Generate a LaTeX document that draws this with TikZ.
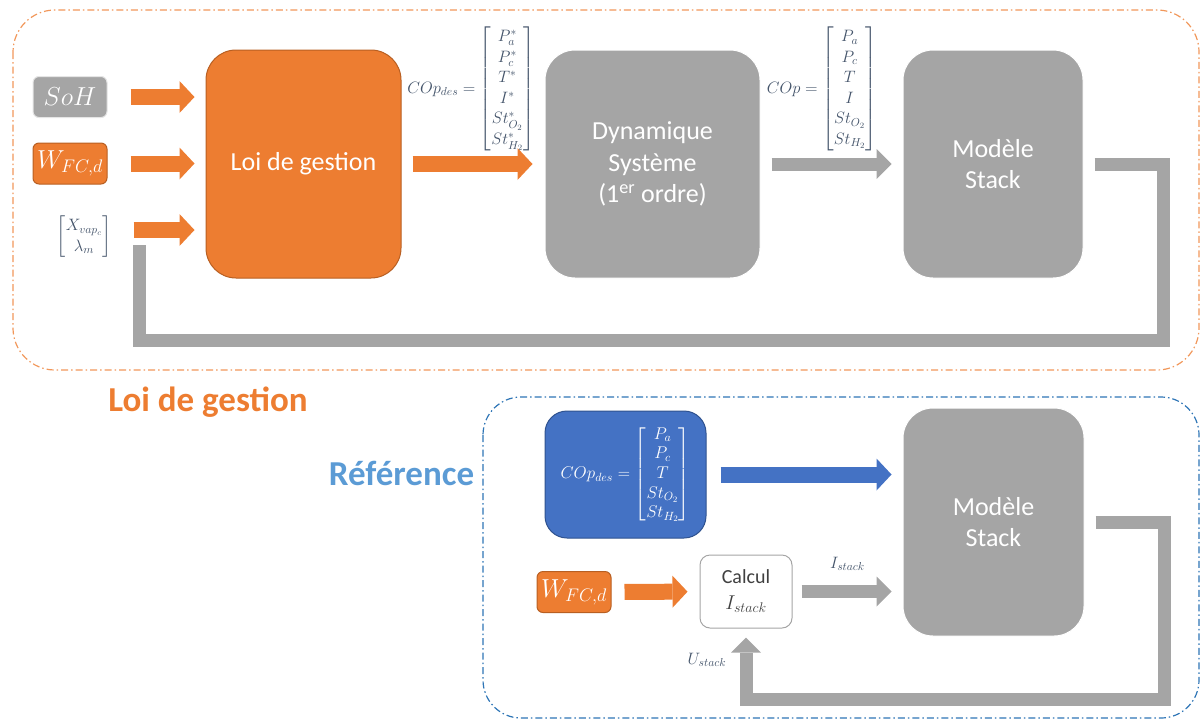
\RequirePackage{fix-cm}
\documentclass[tikz,border=0pt]{standalone}
\usepackage{amsmath}
\usepackage[no-math]{fontspec}
\setmainfont{Carlito}
\usetikzlibrary{arrows.meta, positioning, calc}

\definecolor{orangeF}{HTML}{ED7D31}
\definecolor{orangeD}{HTML}{B85F22}
\definecolor{grayF}{HTML}{A5A5A5}
\definecolor{blueF}{HTML}{4472C4}
\definecolor{blueD}{HTML}{2F528F}
\definecolor{slate}{HTML}{44546A}
\definecolor{refblue}{HTML}{5B9BD5}
\definecolor{frameblue}{HTML}{2E75B6}

\begin{document}
\begin{tikzpicture}[x=1pt, y=-1pt,
    blk/.style={rectangle, rounded corners=30pt, draw=white, line width=1pt, fill=grayF,
      text=white, align=center, font=\fontsize{26}{31.5}\selectfont},
    smallbox/.style={rectangle, rounded corners=6pt, draw=white!80!gray, line width=1pt,
      minimum width=74pt, minimum height=41pt, text=white, font=\fontsize{26}{28}\selectfont},
    calcbox/.style={rectangle, rounded corners=10pt, draw=grayF, line width=1pt, fill=white,
      minimum width=92pt, minimum height=73pt, align=center, text=black!75,
      font=\fontsize{20}{26}\selectfont},
    mathlbl/.style={text=slate, font=\fontsize{16.5}{20.5}\selectfont},
    title/.style={font=\bfseries\fontsize{35}{40}\selectfont},
    frame/.style={line width=1.2pt, rounded corners=42pt,
      dash pattern=on 7pt off 3pt on 1.5pt off 3pt},
    harrow/.style={line width=16pt, -{Triangle[length=15pt, width=32pt, line width=0pt]}},
    garrow/.style={line width=13pt, grayF, line join=miter,
      -{Triangle[length=15pt, width=30pt, line width=0pt]}},
    fbline/.style={line width=13pt, grayF, line join=miter},
  ]
  \useasboundingbox (0,0) rectangle (1201,721);

  % frames
  \draw[frame, orangeF!80] (13,10) rectangle (1199,370);
  \draw[frame, frameblue, rounded corners=38pt] (483,397) rectangle (1199,718);

  \node[title, text=orangeF] (tloi) at (208,402) {Loi de gestion};
  \node[title, text=refblue] (tref) at (401.5,473) {Référence};

  % Loi de gestion
  \node[smallbox, fill=grayF] (soh) at (70,97) {$SoH$};
  \node[smallbox, fill=orangeF, draw=orangeD] (wfc) at (70,163.5) {$W_{FC,d}$};
  \node[mathlbl] (xvap) at (84,237) {$\begin{bmatrix} X_{vap_c}\\ \lambda_m \end{bmatrix}$};
  \coordinate (xout) at ([yshift=7pt]xvap.east);

  \node[blk, fill=orangeF, draw=orangeD, minimum width=195pt, minimum height=228pt] (loi) at (303.5,164) {Loi de gestion};
  \node[mathlbl] (copdes) at (471,89) {$COp_{des} = \begin{bmatrix} P_a^*\\ P_c^*\\ T^*\\ I^*\\ St_{O_2}^*\\ St_{H_2}^* \end{bmatrix}$};
  \node[blk, minimum width=215pt, minimum height=228pt] (dyn) at (652.5,164) {Dynamique\\Système\\(1\textsuperscript{er} ordre)};
  \node[mathlbl] (cop) at (822,89) {$COp = \begin{bmatrix} P_a\\ P_c\\ T\\ I\\ St_{O_2}\\ St_{H_2} \end{bmatrix}$};
  \node[blk, minimum width=180pt, minimum height=228pt] (stack) at (993,164) {Modèle\\Stack};

  \coordinate (fbcorner) at (1163.5,340.5);
  \coordinate (fbend) at (139,245);

  \draw[harrow, orangeF, shorten <=23pt, shorten >=11pt] (soh.east) -- (soh.east -| loi.west);
  \draw[harrow, orangeF, shorten <=23pt, shorten >=11pt] (wfc.east) -- (wfc.east -| loi.west);
  \draw[harrow, orangeF, shorten <=19pt, shorten >=11pt] (xout) -- (xout -| loi.west);
  \draw[harrow, orangeF, shorten <=11pt, shorten >=12pt] (loi) -- (dyn);
  \draw[garrow, shorten <=11pt, shorten >=11pt] (dyn) -- (stack);
  \draw[fbline] ([xshift=11pt]stack.east) -| (fbcorner) -| (fbend);

  % Reference
  \node[blk, fill=blueF, draw=blueD, rounded corners=22pt, minimum width=161pt, minimum height=127pt,
    font=\fontsize{17}{19.6}\selectfont] (copref) at (625.5,474.5)
    {$COp_{des} = \begin{bmatrix} P_a\\ P_c\\ T\\ St_{O_2}\\ St_{H_2} \end{bmatrix}$};
  \node[blk, minimum width=181pt, minimum height=228pt] (stackb) at (993.5,522) {Modèle\\Stack};
  \node[smallbox, fill=orangeF, draw=orangeD] (wfcb) at (574,592) {$W_{FC,d}$};
  \node[calcbox] (calcI) at (746,591.5) {Calcul\\$I_{stack}$};
  \node[mathlbl] (ulbl) at (707,660) {$U_{stack}$};

  \coordinate (fbbcorner) at (1164,699);

  \draw[harrow, blueF, shorten <=14pt, shorten >=11pt] (copref.east) -- (copref.east -| stackb.west);
  \draw[harrow, orangeF, shorten <=13pt, shorten >=12pt] (wfcb) -- (calcI);
  \draw[garrow, shorten <=9pt, shorten >=11pt] (calcI) -- (calcI -| stackb.west)
    node[midway, above=11pt, mathlbl] {$I_{stack}$};
  \draw[garrow, shorten >=9pt] ([xshift=11pt]stackb.east) -| (fbbcorner) -| (calcI.south);
\end{tikzpicture}
\end{document}
